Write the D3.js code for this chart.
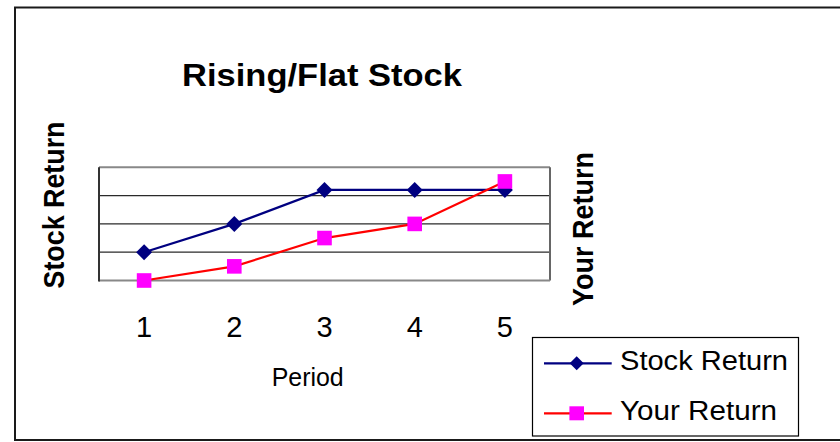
<!DOCTYPE html>
<html>
<head>
<meta charset="utf-8">
<script src="https://cdn.jsdelivr.net/npm/d3@7"></script>
<style>
  html, body { margin: 0; padding: 0; background: #fff; }
  svg { display: block; font-family: "Liberation Sans", Arial, sans-serif; }
</style>
</head>
<body>
<svg id="chart" width="840" height="442"></svg>
<script>
// Periods and the two return series
const periods = [1, 2, 3, 4, 5];
const stockReturn = [1, 2, 3.2, 3.2, 3.2];
const yourReturn = [0, 0.5, 1.5, 2, 3.5];
const yTicks = [0, 1, 2, 3, 4];
const seriesNames = ["Stock Return", "Your Return"];

const svg = d3.select("#chart");

// Outer chart frame (open on the right side)
svg.append("rect")
  .attr("x", 15).attr("y", 7.5)
  .attr("width", 840).attr("height", 432.5)
  .attr("fill", "#fff")
  .attr("stroke", "#1a1a1a").attr("stroke-width", 2);

const plot = { left: 99, right: 550, top: 167.3, bottom: 280.5 };

const x = d3.scaleBand().domain(periods).range([plot.left, plot.right]).padding(0);
const cx = d => x(d) + x.bandwidth() / 2;
const y = d3.scaleLinear().domain([0, 4]).range([plot.bottom, plot.top]);

// Horizontal gridlines
svg.append("g")
  .selectAll("line")
  .data(yTicks.slice(1, -1))
  .join("line")
  .attr("x1", plot.left).attr("x2", plot.right)
  .attr("y1", d => y(d)).attr("y2", d => y(d))
  .attr("stroke", "#2a2a2a").attr("stroke-width", 1.2);

// Plot area border
svg.append("line")
  .attr("x1", plot.left).attr("x2", plot.right)
  .attr("y1", plot.top).attr("y2", plot.top)
  .attr("stroke", "#888").attr("stroke-width", 2);
svg.append("line")
  .attr("x1", plot.right).attr("x2", plot.right)
  .attr("y1", plot.top).attr("y2", plot.bottom)
  .attr("stroke", "#666").attr("stroke-width", 2);
svg.append("line")
  .attr("x1", plot.left).attr("x2", plot.right)
  .attr("y1", plot.bottom).attr("y2", plot.bottom)
  .attr("stroke", "#888").attr("stroke-width", 2.2);
svg.append("line")
  .attr("x1", plot.left).attr("x2", plot.left)
  .attr("y1", plot.top).attr("y2", plot.bottom + 1)
  .attr("stroke", "#333").attr("stroke-width", 2);

// Category axis labels
const xAxis = svg.append("g")
  .attr("transform", `translate(0,${plot.bottom})`)
  .call(d3.axisBottom(x).tickSize(0).tickPadding(0));
xAxis.select(".domain").remove();
xAxis.selectAll("text")
  .attr("y", 337 - plot.bottom)
  .attr("dy", 0)
  .attr("fill", "#000")
  .style("font-family", "'Liberation Sans', Arial, sans-serif")
  .style("font-size", "29px");

// Series lines and markers
const line = d3.line().x((d, i) => cx(periods[i])).y(d => y(d));

svg.append("path")
  .datum(stockReturn)
  .attr("d", line)
  .attr("fill", "none")
  .attr("stroke", "#000080").attr("stroke-width", 2.2);

svg.append("path")
  .datum(yourReturn)
  .attr("d", line)
  .attr("fill", "none")
  .attr("stroke", "#ff0000").attr("stroke-width", 2.2);

const diamond = s => `M0,${-s}L${s},0L0,${s}L${-s},0Z`;

svg.append("g")
  .selectAll("path")
  .data(stockReturn)
  .join("path")
  .attr("transform", (d, i) => `translate(${cx(periods[i])},${y(d)})`)
  .attr("d", diamond(8))
  .attr("fill", "#000080");

svg.append("g")
  .selectAll("rect")
  .data(yourReturn)
  .join("rect")
  .attr("x", (d, i) => cx(periods[i]) - 7.3)
  .attr("y", d => y(d) - 7.3)
  .attr("width", 14.6).attr("height", 14.6)
  .attr("fill", "#ff00ff");

// Titles
svg.append("text")
  .attr("x", 322).attr("y", 86)
  .attr("text-anchor", "middle")
  .attr("font-size", 32).attr("font-weight", "bold")
  .attr("textLength", 280).attr("lengthAdjust", "spacingAndGlyphs")
  .text("Rising/Flat Stock");

svg.append("text")
  .attr("transform", "translate(64,205) rotate(-90)")
  .attr("text-anchor", "middle")
  .attr("font-size", 29).attr("font-weight", "bold")
  .attr("textLength", 167).attr("lengthAdjust", "spacingAndGlyphs")
  .text("Stock Return");

svg.append("text")
  .attr("transform", "translate(592.5,229) rotate(-90)")
  .attr("text-anchor", "middle")
  .attr("font-size", 29).attr("font-weight", "bold")
  .attr("textLength", 154).attr("lengthAdjust", "spacingAndGlyphs")
  .text("Your Return");

svg.append("text")
  .attr("x", 307.7).attr("y", 386)
  .attr("text-anchor", "middle")
  .attr("font-size", 25)
  .attr("textLength", 72).attr("lengthAdjust", "spacingAndGlyphs")
  .text("Period");

// Legend
const legend = svg.append("g");
legend.append("rect")
  .attr("x", 532.5).attr("y", 337.5)
  .attr("width", 266).attr("height", 98.5)
  .attr("fill", "#fff")
  .attr("stroke", "#000").attr("stroke-width", 1.2);

const legendRows = [
  { name: seriesNames[0], color: "#000080", marker: "diamond", yPos: 363.3, base: 370, len: 168 },
  { name: seriesNames[1], color: "#ff0000", marker: "square", yPos: 413.3, base: 420, len: 157 }
];

legendRows.forEach(r => {
  legend.append("line")
    .attr("x1", 544).attr("x2", 611.7)
    .attr("y1", r.yPos).attr("y2", r.yPos)
    .attr("stroke", r.color).attr("stroke-width", 2.2);
  if (r.marker === "diamond") {
    legend.append("path")
      .attr("transform", `translate(576.7,${r.yPos})`)
      .attr("d", diamond(7))
      .attr("fill", "#000080");
  } else {
    legend.append("rect")
      .attr("x", 576.7 - 7.3).attr("y", r.yPos - 7)
      .attr("width", 14.6).attr("height", 14)
      .attr("fill", "#ff00ff");
  }
  legend.append("text")
    .attr("x", 620).attr("y", r.base)
    .attr("font-size", 27)
    .attr("textLength", r.len).attr("lengthAdjust", "spacingAndGlyphs")
    .text(r.name);
});
</script>
</body>
</html>
